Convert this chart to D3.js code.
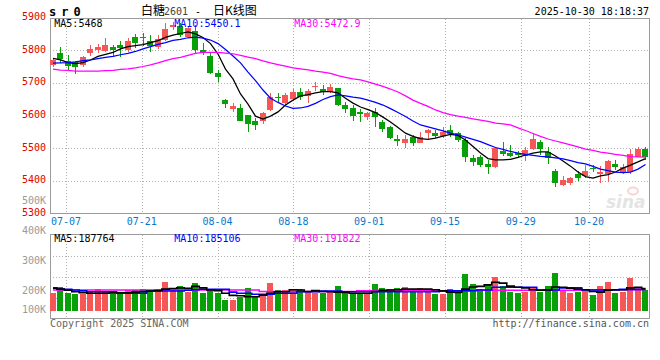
<!DOCTYPE html>
<html><head><meta charset="utf-8">
<script src="https://cdn.jsdelivr.net/npm/d3@7"></script>
<style>body{margin:0;background:#fff}svg{display:block}</style>
</head><body><svg id="c" width="660" height="360"></svg>
<script>
const open=[5755,5792,5767,5763,5755,5790,5800,5797,5810,5815,
5800,5841,5841,5828,5810,5831,5872,5874,5840,5859,
5800,5782,5731,5648,5619,5622,5601,5584,5584,5617,
5658,5639,5650,5673,5660,5686,5681,5673,5683,5632,
5622,5612,5596,5612,5581,5564,5528,5517,5535,5517,
5545,5547,5537,5556,5545,5525,5469,5472,5451,5443,
5492,5486,5486,5477,5497,5520,5489,5431,5387,5392,
5420,5416,5439,5420,5420,5451,5426,5426,5474,5497];
const high=[5776,5810,5785,5768,5782,5816,5818,5836,5816,5828,
5836,5850,5853,5846,5846,5884,5887,5884,5874,5877,
5822,5792,5738,5650,5637,5635,5603,5591,5612,5670,
5670,5670,5680,5685,5680,5702,5693,5695,5685,5642,
5632,5619,5612,5622,5586,5569,5540,5540,5540,5550,
5558,5556,5566,5571,5550,5530,5479,5479,5464,5505,
5518,5510,5492,5503,5543,5525,5503,5435,5415,5413,
5430,5450,5448,5445,5464,5464,5453,5497,5503,5503];
const low=[5750,5762,5739,5726,5750,5781,5792,5795,5780,5780,
5795,5808,5812,5795,5803,5829,5862,5841,5836,5790,
5785,5728,5703,5622,5611,5583,5550,5556,5574,5615,
5639,5630,5645,5647,5639,5676,5662,5670,5629,5608,
5584,5581,5586,5564,5550,5527,5507,5502,5507,5515,
5528,5530,5530,5535,5520,5459,5445,5441,5421,5440,
5477,5474,5474,5462,5494,5479,5451,5380,5384,5387,
5400,5410,5428,5392,5397,5433,5420,5420,5472,5464];
const close=[5771,5772,5752,5747,5778,5803,5810,5817,5800,5807,
5828,5822,5840,5814,5833,5864,5877,5846,5868,5800,
5792,5730,5717,5635,5629,5584,5574,5571,5607,5656,
5656,5663,5673,5656,5676,5689,5671,5686,5632,5619,
5599,5604,5609,5594,5559,5530,5523,5528,5517,5535,
5556,5537,5550,5542,5525,5472,5459,5448,5443,5500,
5482,5477,5479,5494,5527,5497,5469,5394,5403,5410,
5408,5430,5438,5428,5460,5443,5443,5482,5497,5473];
const volume=[174000,192000,174000,169700,169700,180700,185300,176300,174000,174000,
183000,183000,185300,180700,185300,210700,185300,196300,177300,207300,
174000,183000,174000,149700,149700,160700,188700,160700,169700,207300,
183000,183000,186300,185300,177300,174000,172000,177300,196300,172000,
172000,172000,172000,203000,189700,185300,188700,192000,180700,188700,
180700,169700,169700,185300,174000,236300,203000,185300,199700,225300,
196300,177300,174000,177300,192000,177300,196300,240700,180700,174000,
177300,180700,166300,196300,210700,174000,177300,224000,192000,183000];
const ma5=[5775,5770,5762,5759,5762,5770,5781,5787,5793,5804,
5811,5814,5817,5823,5829,5839,5846,5851,5856,5850,
5839,5820,5788,5742,5712,5666,5635,5598,5589,5598,
5611,5632,5647,5660,5664,5669,5673,5673,5669,5653,
5638,5626,5618,5609,5595,5580,5563,5546,5536,5529,
5527,5531,5537,5542,5539,5525,5505,5485,5468,5464,
5464,5466,5472,5479,5485,5489,5489,5476,5461,5445,
5427,5413,5408,5415,5419,5427,5439,5448,5458,5468];
const ma10=[5760,5761,5762,5764,5768,5770,5774,5778,5781,5786,
5790,5796,5804,5811,5818,5823,5830,5833,5838,5840,
5837,5831,5820,5802,5782,5761,5733,5707,5678,5653,
5640,5629,5622,5623,5628,5637,5649,5658,5663,5660,
5656,5653,5647,5640,5632,5621,5609,5597,5583,5571,
5565,5559,5553,5546,5541,5534,5527,5520,5511,5502,
5496,5490,5485,5481,5478,5475,5473,5470,5467,5462,
5456,5452,5444,5436,5431,5427,5425,5427,5436,5450.1];
const ma30=[5742,5739,5738,5736,5736,5736,5736,5737,5738,5741,
5743,5746,5750,5755,5761,5768,5774,5778,5784,5790,
5793,5793,5793,5791,5789,5784,5779,5774,5767,5761,
5756,5751,5746,5743,5740,5736,5733,5729,5722,5717,
5712,5709,5703,5696,5689,5681,5672,5660,5647,5637,
5628,5617,5609,5603,5598,5594,5590,5586,5582,5577,
5574,5571,5562,5554,5545,5536,5528,5522,5516,5510,
5504,5497,5493,5488,5485,5481,5478,5474,5473,5472.9];
const vma5=[188700,186000,182000,177300,174000,172000,172000,172000,174000,174000,
174000,176000,178000,179700,181000,186000,188000,190000,188700,195000,
190000,183000,180700,172000,165000,164000,161000,160700,166000,172000,
177300,177300,184000,183000,178000,181000,178000,177300,176000,175000,
172000,172000,172000,178000,182000,183000,184000,186000,186000,186000,
186000,184000,180000,176000,175000,186000,193000,195000,200000,209000,
206000,196000,192000,190000,184000,182000,183000,193000,192000,189000,
186000,184000,178000,176000,182000,184000,184000,190000,192000,187764];
const vma10=[190000,186000,185300,183000,180000,177300,177300,177300,177300,172000,
172000,172000,172000,179700,179700,179700,179700,179700,182000,184000,
185300,185300,185300,185300,176000,172000,172000,169000,169000,169000,
172000,172000,172000,177300,177300,177300,179700,179700,179700,177300,
177300,177300,177300,177300,177300,177300,177300,177300,177300,177300,
177300,177300,180700,180700,180700,180700,180700,183000,183000,192000,
192000,192000,192000,192000,192000,183000,183000,183000,190000,190000,
190000,183000,183000,183000,183000,183000,185106,185106,185106,185106];
const vma30=[183000,183000,183000,183000,183000,183000,183000,183000,183000,183000,
183000,183000,183000,183000,183000,183000,183000,183000,183000,183000,
183000,183000,183000,183000,183000,183000,183000,183000,178000,178000,
178000,178000,178000,178000,178000,178000,178000,178000,178000,178000,
178000,180000,180000,180000,180000,180000,180000,180000,180000,180000,
180000,180000,180000,180000,180000,180000,182000,182000,182000,182000,
182000,182000,182000,182000,182000,182000,182000,182000,182000,182000,
182000,184000,184000,184000,184000,184000,184000,184000,184000,184000];
const tickIdx=[2,12,22,32,42,52,62,71];
const tickLabels=['07-07','07-21','08-04','08-18','09-01','09-15','09-29','10-20'];
const priceTicks=[5300,5400,5500,5600,5700,5800,5900];
const volTicks=[100000,200000,300000,400000,500000];
const volTickLabels=['100K','200K','300K','400K','500K'];
const legendPrice=['MA5:5468','MA10:5450.1','MA30:5472.9'];
const legendVol=['MA5:187764','MA10:185106','MA30:191822'];
const legendColors=['#000000','#0000ff','#ff00ff'];

const svg=d3.select('#c');
const MONO='"DejaVu Sans Mono", "Liberation Mono", monospace';
const CJK='"Noto Sans CJK SC", "Noto Sans", sans-serif';
const UP='#f55656', DOWN='#08a008', GRID='#b0b0b0', AX='#9a9a9a';
const L=50, R=649.5, PT=18.5, PB=213.5, VT=234.5, VB=318.5, VBASE=311;
const n=close.length;
const x=d3.scaleLinear().domain([0,n-1]).range([53,645.5]);
const xg=d3.scaleLinear().domain([0,n-1]).range([50.8,50.8+7.58*(n-1)]);
const y=d3.scaleLinear().domain([5300,5900]).range([213.5,17.5]);
const yv=d3.scaleLinear().domain([188000,500000]).range([288.5,194.9]);

svg.append('rect').attr('width',660).attr('height',360).attr('fill','#fff');

// grid
const g=svg.append('g').attr('stroke',GRID).attr('stroke-dasharray','1,2').attr('shape-rendering','crispEdges');
priceTicks.slice(1,-1).forEach(p=>{
  const yy=Math.round(y(p))+0.5;
  g.append('line').attr('x1',L).attr('x2',R).attr('y1',yy).attr('y2',yy);
});
[1,2,3].forEach(k=>{
  const yy=Math.round(VT+(VB-VT)*k/4)+0.5;
  g.append('line').attr('x1',L).attr('x2',R).attr('y1',yy).attr('y2',yy);
});
tickIdx.forEach(i=>{
  const xx=Math.round(xg(i))+0.5;
  g.append('line').attr('x1',xx).attr('x2',xx).attr('y1',PT).attr('y2',PB);
  g.append('line').attr('x1',xx).attr('x2',xx).attr('y1',VT).attr('y2',VB);
});

// borders
svg.append('rect').attr('x',L).attr('y',PT).attr('width',R-L).attr('height',PB-PT)
  .attr('fill','none').attr('stroke',AX).attr('shape-rendering','crispEdges');
svg.append('rect').attr('x',L).attr('y',VT).attr('width',R-L).attr('height',VB-VT)
  .attr('fill','none').attr('stroke',AX).attr('shape-rendering','crispEdges');

// watermark
const wm=svg.append('g').attr('opacity',0.55);
wm.append('ellipse').attr('cx',633).attr('cy',191).attr('rx',5).attr('ry',3.5)
  .attr('fill','none').attr('stroke','#f0b4b4').attr('stroke-width',2);
wm.append('text').attr('x',606).attr('y',208).attr('font-family','"DejaVu Sans", sans-serif')
  .attr('font-size',17).attr('font-weight','bold').attr('font-style','italic')
  .attr('fill','#cfcfcf').text('sina');

// candles
const cg=svg.append('g').attr('shape-rendering','crispEdges');
d3.range(n).forEach(i=>{
  const up=close[i]>=open[i];
  const col=up?UP:DOWN;
  const cx=Math.floor(x(i))+0.5;
  cg.append('line').attr('x1',cx).attr('x2',cx).attr('y1',y(high[i])).attr('y2',y(low[i])).attr('stroke',col);
  const t=y(Math.max(open[i],close[i])), b=y(Math.min(open[i],close[i]));
  cg.append('rect').attr('x',Math.floor(x(i))-3).attr('y',t).attr('width',6).attr('height',Math.max(1,b-t)).attr('fill',col);
  const vt=yv(volume[i]);
  cg.append('rect').attr('x',Math.floor(x(i))-3).attr('y',vt).attr('width',6).attr('height',VBASE-vt).attr('fill',col);
});

// MA lines
const line=d3.line().x((d,i)=>x(i)).y(d=>y(d));
[[ma5,legendColors[0]],[ma10,legendColors[1]],[ma30,legendColors[2]]].forEach(([arr,c])=>{
  svg.append('path').attr('d',line(arr)).attr('fill','none').attr('stroke',c).attr('stroke-width',1.25);
});
const vline=d3.line().x((d,i)=>x(i)).y(d=>yv(d)).curve(d3.curveStep);
[[vma30,legendColors[2]],[vma10,legendColors[1]],[vma5,legendColors[0]]].forEach(([arr,c])=>{
  svg.append('path').attr('d',vline(arr)).attr('fill','none').attr('stroke',c).attr('stroke-width',1.6);
});

// axis labels
priceTicks.forEach(p=>{
  svg.append('text').attr('x',46).attr('y',y(p)+2.5).attr('text-anchor','end')
    .attr('font-family',MONO).attr('font-size',10).attr('fill','#e00000').text(p);
});
volTicks.forEach((v,k)=>{
  svg.append('text').attr('x',46).attr('y',Math.min(yv(v)+9,312.8)).attr('text-anchor','end')
    .attr('font-family',MONO).attr('font-size',10).attr('fill','#9a9a9a').text(volTickLabels[k]);
});
tickIdx.forEach((i,k)=>{
  svg.append('text').attr('x',xg(i)).attr('y',225).attr('text-anchor','middle')
    .attr('font-family',MONO).attr('font-size',10).attr('fill','#0a78cc').text(tickLabels[k]);
});

// legends
const lx=[54.3,174.3,294.3];
legendPrice.forEach((t,k)=>{
  svg.append('text').attr('x',lx[k]).attr('y',27).attr('font-family',MONO).attr('font-size',10)
    .attr('fill',legendColors[k]).text(t);
});
legendVol.forEach((t,k)=>{
  svg.append('text').attr('x',lx[k]).attr('y',242).attr('font-family',MONO).attr('font-size',10)
    .attr('fill',legendColors[k]).text(t);
});

// header
svg.append('text').attr('x',49).attr('y',16).attr('font-family',MONO).attr('font-size',12)
  .attr('font-weight','bold').attr('letter-spacing',5).attr('fill','#000').text('sr0');
const ht=svg.append('text').attr('y',15).attr('font-size',12).attr('fill','#000');
ht.append('tspan').attr('x',141).attr('font-family',CJK).text('白糖');
ht.append('tspan').attr('x',164).attr('font-family',MONO).attr('font-size',10).attr('fill','#444').text('2601');
ht.append('tspan').attr('x',195).attr('font-family',MONO).attr('font-size',10).text('-');
ht.append('tspan').attr('x',213).attr('font-family',CJK).text('日K线图');
svg.append('text').attr('x',649).attr('y',15).attr('text-anchor','end').attr('font-family',MONO)
  .attr('font-size',10).attr('fill','#000').text('2025-10-30 18:18:37');

// footer
svg.append('text').attr('x',50).attr('y',327).attr('font-family',MONO).attr('font-size',10)
  .attr('fill','#666').text('Copyright 2025 SINA.COM');
svg.append('text').attr('x',649).attr('y',327).attr('text-anchor','end').attr('font-family',MONO)
  .attr('font-size',10).attr('fill','#555').text('http://finance.sina.com.cn');
</script></body></html>
